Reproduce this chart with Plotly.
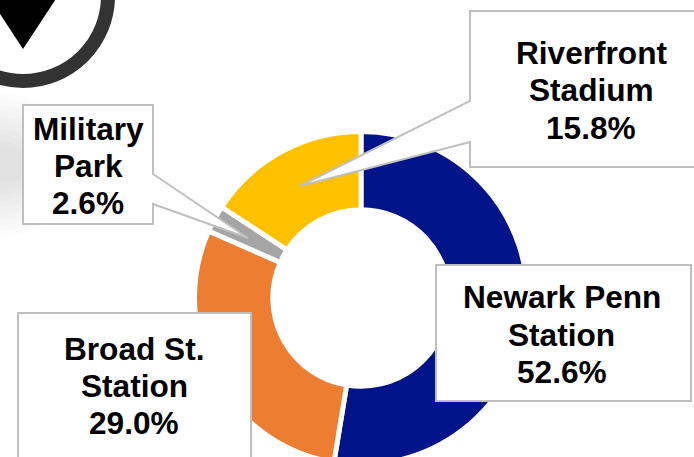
import plotly.graph_objects as go

W, H = 694, 470  # taller than the window: the ring runs slightly past the bottom edge of the picture

stations = ["Newark Penn Station", "Broad St. Station", "Military Park", "Riverfront Stadium"]
shares = [52.6, 29.0, 2.6, 15.8]
colors = ["#001489", "#ED7D31", "#A5A5A5", "#FFC000"]
label_lines = [
    ["Newark Penn", "Station", "52.6%"],
    ["Broad St.", "Station", "29.0%"],
    ["Military", "Park", "2.6%"],
    ["Riverfront", "Stadium", "15.8%"],
]
label_centers = [(561.5, [297, 335, 372]), (134, [349, 386, 423]), (88, [129, 166, 203]), (591, [53, 90, 128])]
callouts = [
    "M436,265 H691 V401 H436 Z",
    "M18,313 H251 V480 H18 Z",
    "M23,105 H153 V174 L248,238 L153,204 V224 H23 Z",
    "M470,11 H710 V167 H470 V142 L300,186 L470,101 Z",
]
glow_rx = [80, 74, 68, 62, 56, 50, 45, 40, 35, 30]
glow_ry = [72, 66, 60, 54, 48, 42, 36, 30, 24, 18]

def px(x):
    return x / W

def py(y):
    return 1 - y / H

cx, cy, R = 361, 298, 166.5
fig = go.Figure(go.Pie(
    labels=stations, values=shares, sort=False, direction="clockwise", rotation=0,
    hole=0.53, textinfo="none", hoverinfo="label+percent",
    marker=dict(colors=colors, line=dict(color="white", width=5)),
    domain=dict(x=[px(cx - R), px(cx + R)], y=[py(cy + R), py(cy - R)]),
))

shapes = []
# faint grey glow at the left edge
for rx, ry in zip(glow_rx, glow_ry):
    shapes.append(dict(type="circle", xref="x", yref="y", x0=-rx, x1=rx, y0=165 - ry, y1=165 + ry,
                       fillcolor="rgba(0,0,0,0.011)", line_width=0, layer="below"))
# corner icon
shapes.append(dict(type="circle", xref="x", yref="y", x0=23 - 85, x1=23 + 85, y0=-4 - 85, y1=-4 + 85,
                   fillcolor="white", line=dict(color="#333333", width=14), layer="above"))
shapes.append(dict(type="path", xref="x", yref="y", path="M-29,-30 L75,-30 L23,49 Z",
                   fillcolor="black", line_width=0, layer="above"))
for p in callouts:
    shapes.append(dict(type="path", xref="x", yref="y", path=p, fillcolor="white",
                       line=dict(color="#BFBFBF", width=2), layer="above"))

annotations = []
for lines, (x, ys) in zip(label_lines, label_centers):
    for t, y in zip(lines, ys):
        annotations.append(dict(x=x, y=y, xref="x", yref="y", text=f"<b>{t}</b>", showarrow=False,
                                xanchor="center", yanchor="middle",
                                font=dict(family="Liberation Sans, Arial, sans-serif", size=31.6, color="black")))

fig.update_layout(
    width=W, height=H, margin=dict(l=0, r=0, t=0, b=0), showlegend=False,
    paper_bgcolor="white", plot_bgcolor="rgba(0,0,0,0)",
    xaxis=dict(range=[0, W], visible=False, fixedrange=True),
    yaxis=dict(range=[H, 0], visible=False, fixedrange=True),
    shapes=shapes, annotations=annotations,
)
fig.write_html("out.html", config={"displayModeBar": False},
               post_script="document.body.style.margin='0';document.documentElement.style.overflow='hidden';document.body.style.overflow='hidden';")
